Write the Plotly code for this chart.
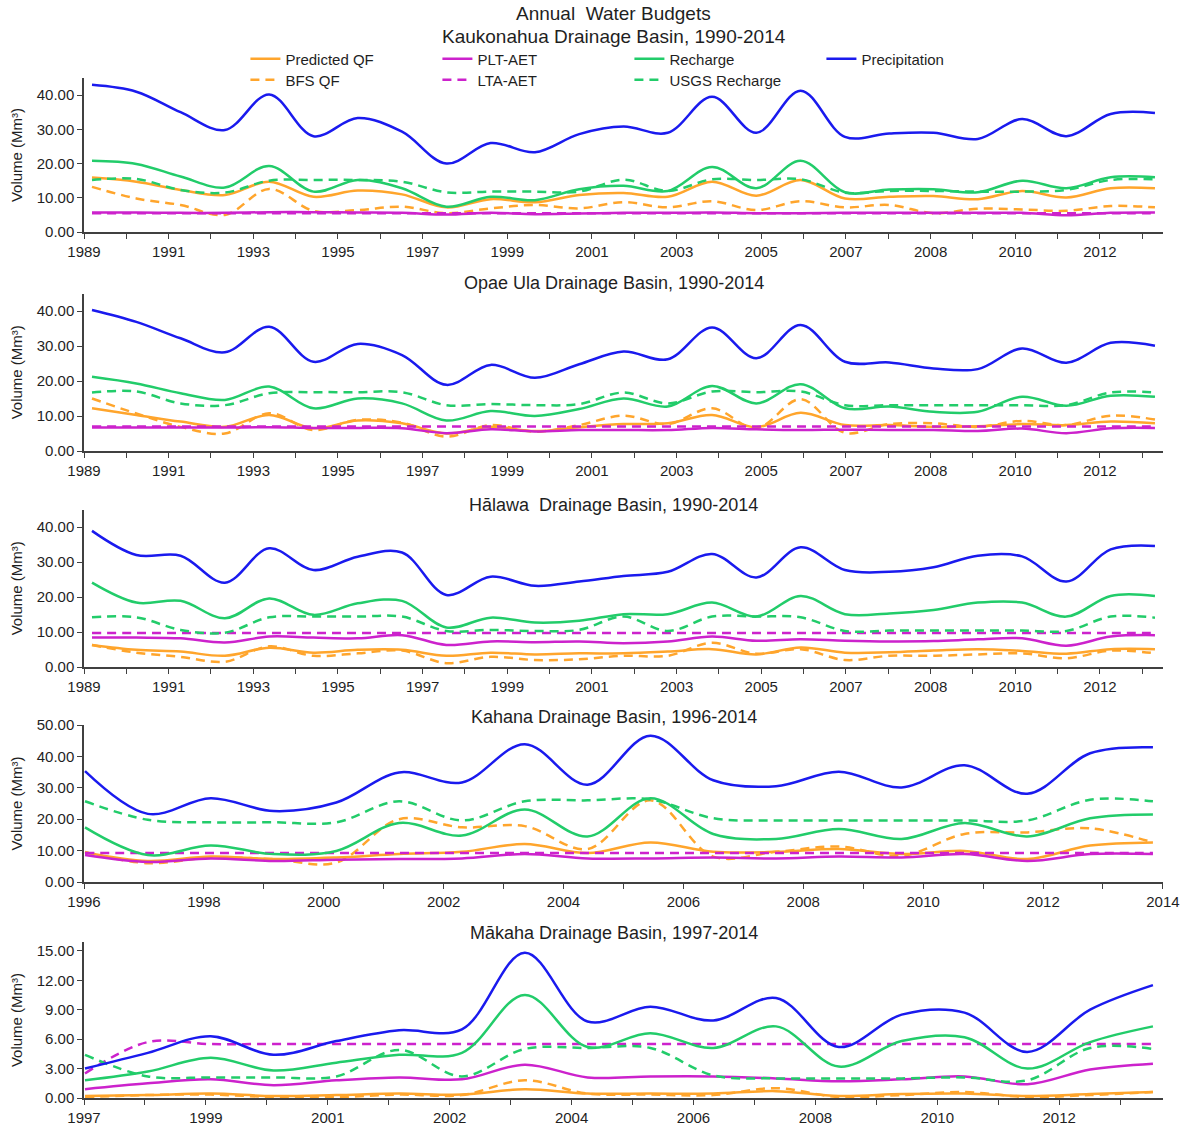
import plotly.graph_objects as go

W, H = 1184, 1126

# ---------------- data ----------------
years_90_14 = list(range(1990, 2015))
years_kahana = list(range(1996, 2014))
years_makaha = list(range(1997, 2015))

series_names = ["Predicted QF", "BFS QF", "PLT-AET", "LTA-AET", "Recharge", "USGS Recharge", "Precipitation"]

kauk = {
    "Precipitation": [43.0, 41.0, 35.0, 29.8, 40.2, 28.0, 33.3, 29.3, 20.0, 26.0, 23.3, 28.6, 30.8, 29.0, 39.5, 29.0, 41.3, 27.8, 28.8, 29.0, 27.2, 33.0, 28.0, 34.5, 34.8],
    "Recharge":      [20.8, 19.9, 16.2, 13.0, 19.3, 11.8, 15.2, 12.8, 7.4, 10.3, 9.3, 12.5, 13.5, 12.0, 19.0, 12.8, 20.8, 11.6, 12.4, 12.5, 11.6, 15.0, 12.8, 16.0, 16.0],
    "USGS Recharge": [15.2, 15.5, 12.3, 11.5, 15.0, 15.2, 15.2, 14.7, 11.6, 11.8, 11.8, 11.8, 15.3, 12.0, 15.4, 15.2, 15.4, 11.5, 12.0, 12.0, 11.8, 11.8, 12.3, 15.2, 15.4],
    "Predicted QF":  [15.9, 14.7, 12.3, 10.8, 14.7, 10.3, 12.1, 11.0, 7.2, 9.6, 8.7, 10.8, 11.4, 10.3, 14.7, 10.6, 15.2, 9.8, 10.3, 10.5, 9.6, 12.0, 10.1, 12.8, 12.8],
    "BFS QF":        [13.2, 9.8, 7.9, 5.0, 12.6, 6.2, 6.4, 7.4, 5.5, 6.9, 7.9, 6.9, 8.7, 7.2, 9.0, 6.4, 9.0, 7.2, 7.9, 5.5, 6.8, 6.6, 6.2, 7.6, 7.2],
    "PLT-AET":       [5.7, 5.7, 5.6, 5.6, 5.8, 5.8, 5.7, 5.6, 5.1, 5.6, 5.2, 5.4, 5.6, 5.6, 5.7, 5.5, 5.5, 5.6, 5.6, 5.6, 5.6, 5.6, 4.9, 5.6, 5.7],
    "LTA-AET":       [5.5, 5.5, 5.5, 5.5, 5.5, 5.5, 5.5, 5.5, 5.5, 5.5, 5.5, 5.5, 5.5, 5.5, 5.5, 5.5, 5.5, 5.5, 5.5, 5.5, 5.5, 5.5, 5.5, 5.5, 5.5],
}

opae = {
    "Precipitation": [40.3, 36.9, 32.2, 28.2, 35.5, 25.5, 30.6, 27.4, 18.9, 24.6, 20.9, 24.8, 28.4, 26.2, 35.3, 26.5, 36.0, 25.5, 25.3, 23.6, 23.4, 29.3, 25.2, 30.9, 30.1],
    "Recharge":      [21.2, 19.3, 16.5, 14.6, 18.4, 12.2, 15.0, 13.6, 8.7, 11.4, 10.0, 12.0, 15.0, 12.7, 18.6, 13.6, 19.1, 12.2, 12.7, 11.2, 11.2, 15.5, 12.9, 15.8, 15.5],
    "USGS Recharge": [16.7, 17.0, 13.6, 13.1, 16.5, 16.8, 16.8, 16.8, 13.1, 13.4, 13.1, 13.4, 16.7, 13.6, 17.0, 16.8, 17.0, 13.1, 13.1, 13.1, 13.1, 13.1, 13.1, 16.7, 16.7],
    "Predicted QF":  [12.2, 10.3, 8.4, 6.9, 10.3, 6.5, 8.7, 7.9, 5.0, 6.9, 5.7, 6.8, 7.7, 7.9, 10.3, 6.8, 10.9, 7.4, 7.4, 6.9, 7.1, 7.7, 7.4, 8.4, 7.9],
    "BFS QF":        [15.0, 10.7, 6.9, 5.0, 10.8, 6.0, 8.9, 8.1, 4.1, 7.4, 5.5, 7.4, 10.1, 7.7, 12.2, 6.5, 14.8, 5.2, 7.7, 7.9, 6.9, 8.6, 7.4, 10.1, 9.0],
    "PLT-AET":       [6.7, 6.7, 6.7, 6.7, 6.8, 6.6, 6.6, 6.5, 5.1, 6.2, 5.6, 6.0, 6.0, 6.0, 6.6, 6.2, 6.0, 6.1, 6.0, 6.0, 5.7, 6.4, 5.1, 6.5, 6.6],
    "LTA-AET":       [7.0, 7.0, 7.0, 7.0, 7.0, 7.0, 7.0, 7.0, 7.0, 7.0, 7.0, 7.0, 7.0, 7.0, 7.0, 7.0, 7.0, 7.0, 7.0, 7.0, 7.0, 7.0, 7.0, 7.0, 7.0],
}

halawa = {
    "Precipitation": [38.9, 32.0, 31.8, 24.1, 33.9, 27.7, 31.5, 32.7, 20.6, 25.8, 23.2, 24.4, 26.0, 27.2, 32.3, 25.6, 34.2, 27.7, 27.2, 28.5, 31.8, 31.6, 24.4, 33.6, 34.6],
    "Recharge":      [24.1, 18.4, 18.9, 13.9, 19.6, 14.9, 18.2, 18.9, 11.3, 14.1, 12.7, 13.2, 15.1, 15.1, 18.4, 14.4, 20.3, 15.1, 15.3, 16.3, 18.4, 18.4, 14.4, 20.3, 20.3],
    "USGS Recharge": [14.2, 14.2, 10.6, 9.8, 14.2, 14.4, 14.4, 14.4, 10.3, 10.6, 10.3, 10.6, 14.4, 10.3, 14.4, 14.4, 14.2, 10.3, 10.4, 10.4, 10.4, 10.4, 10.3, 14.4, 14.1],
    "Predicted QF":  [6.3, 4.9, 4.4, 3.2, 5.5, 4.1, 4.9, 4.9, 3.2, 4.1, 3.6, 3.9, 3.9, 4.4, 5.1, 3.6, 5.6, 4.1, 4.2, 4.7, 5.1, 4.6, 3.8, 5.1, 5.1],
    "BFS QF":        [6.3, 4.1, 2.9, 1.5, 5.9, 3.2, 3.9, 4.7, 1.1, 2.9, 2.0, 2.2, 3.2, 3.2, 6.9, 3.8, 5.1, 2.0, 3.2, 3.2, 3.6, 3.9, 2.5, 4.7, 3.9],
    "PLT-AET":       [8.4, 8.4, 8.2, 7.0, 8.7, 8.4, 8.2, 9.1, 6.3, 7.3, 7.1, 7.3, 6.8, 7.3, 8.7, 7.5, 7.9, 7.5, 7.3, 7.4, 7.9, 8.2, 6.1, 8.7, 9.1],
    "LTA-AET":       [9.7, 9.7, 9.7, 9.7, 9.7, 9.7, 9.7, 9.7, 9.7, 9.7, 9.7, 9.7, 9.7, 9.7, 9.7, 9.7, 9.7, 9.7, 9.7, 9.7, 9.7, 9.7, 9.7, 9.7, 9.7],
}

kahana = {
    "Precipitation": [35.3, 21.7, 26.7, 22.6, 25.3, 34.9, 31.7, 43.9, 31.0, 46.6, 32.4, 30.5, 35.1, 30.1, 37.2, 28.1, 41.0, 42.9],
    "Recharge":      [17.4, 8.6, 11.6, 8.9, 9.9, 18.8, 14.8, 23.1, 14.5, 26.7, 15.3, 13.7, 16.9, 13.7, 18.8, 14.5, 20.3, 21.5],
    "USGS Recharge": [25.7, 19.8, 19.0, 19.0, 19.0, 25.7, 19.6, 25.7, 26.0, 26.3, 20.3, 19.6, 19.6, 19.6, 19.6, 19.6, 26.2, 25.7],
    "Predicted QF":  [9.4, 6.7, 8.1, 7.3, 7.8, 8.9, 9.6, 12.1, 9.2, 12.6, 9.6, 9.6, 10.5, 8.9, 9.9, 7.3, 11.6, 12.6],
    "BFS QF":        [9.6, 6.0, 7.8, 7.3, 6.2, 20.0, 17.4, 17.8, 10.5, 26.0, 8.1, 9.6, 11.3, 8.3, 15.3, 15.8, 17.1, 12.6],
    "PLT-AET":       [8.6, 6.4, 7.5, 6.7, 7.1, 7.3, 7.5, 8.9, 7.5, 7.5, 7.8, 7.5, 8.1, 7.8, 8.9, 6.7, 8.9, 8.9],
    "LTA-AET":       [9.2, 9.2, 9.2, 9.2, 9.2, 9.2, 9.2, 9.2, 9.2, 9.2, 9.2, 9.2, 9.2, 9.2, 9.2, 9.2, 9.2, 9.2],
}

makaha = {
    "Precipitation": [3.0, 4.6, 6.3, 4.4, 5.8, 6.9, 7.0, 14.8, 7.8, 9.3, 7.9, 10.2, 5.2, 8.5, 8.7, 4.7, 9.0, 11.5],
    "Recharge":      [1.8, 2.7, 4.1, 2.8, 3.6, 4.4, 4.6, 10.5, 5.2, 6.6, 5.1, 7.3, 3.2, 5.8, 6.2, 3.0, 5.7, 7.3],
    "USGS Recharge": [4.4, 2.2, 2.1, 2.1, 2.2, 4.9, 2.2, 5.0, 5.1, 5.1, 2.3, 2.0, 2.0, 2.0, 2.1, 1.8, 5.1, 5.0],
    "Predicted QF":  [0.2, 0.3, 0.45, 0.2, 0.3, 0.45, 0.35, 0.9, 0.45, 0.45, 0.45, 0.7, 0.2, 0.4, 0.45, 0.2, 0.4, 0.6],
    "BFS QF":        [0.1, 0.3, 0.35, 0.1, 0.1, 0.35, 0.3, 1.8, 0.45, 0.35, 0.3, 1.0, 0.1, 0.3, 0.6, 0.1, 0.3, 0.6],
    "PLT-AET":       [0.9, 1.5, 1.9, 1.3, 1.8, 2.1, 1.9, 3.4, 2.1, 2.2, 2.2, 2.0, 1.7, 1.9, 2.2, 1.4, 2.9, 3.5],
    "LTA-AET":       [2.5, 5.7, 5.5, 5.5, 5.5, 5.5, 5.5, 5.5, 5.5, 5.5, 5.5, 5.5, 5.5, 5.5, 5.5, 5.5, 5.5, 5.5],
}

tick_labels_90_14 = ["1989", "1991", "1993", "1995", "1997", "1999", "2001", "2003",
                     "2005", "2007", "2008", "2010", "2012"]
tick_labels_kahana = ["1996", "1998", "2000", "2002", "2004", "2006", "2008", "2010", "2012", "2014"]
tick_labels_makaha = ["1997", "1999", "2001", "2002", "2004", "2006", "2008", "2010", "2012"]

main_title = "Annual  Water Budgets"
panel_titles = [
    "Kaukonahua Drainage Basin, 1990-2014",
    "Opae Ula Drainage Basin, 1990-2014",
    "Hālawa  Drainage Basin, 1990-2014",
    "Kahana Drainage Basin, 1996-2014",
    "Mākaha Drainage Basin, 1997-2014",
]
y_title = "Volume (Mm³)"

# ---------------- styles ----------------
FONT = "Liberation Sans, Arial, sans-serif"
TXT = "#1f1f1f"
styles = {
    "Predicted QF":  dict(color="#FFA52C", dash="solid"),
    "BFS QF":        dict(color="#FFA52C", dash="9px,6px"),
    "PLT-AET":       dict(color="#CC22CC", dash="solid"),
    "LTA-AET":       dict(color="#CC22CC", dash="9px,6px"),
    "Recharge":      dict(color="#22CC6A", dash="solid"),
    "USGS Recharge": dict(color="#22CC6A", dash="9px,6px"),
    "Precipitation": dict(color="#1A1AEE", dash="solid"),
}
row1 = ["Predicted QF", "PLT-AET", "Recharge", "Precipitation"]
legend_rank = {"Predicted QF": 1, "PLT-AET": 2, "Recharge": 3, "Precipitation": 4,
               "BFS QF": 1, "LTA-AET": 2, "USGS Recharge": 3}

AX_L, AX_R = 84, 1163  # plot area in px
# panel geometry: (data, years, top px, bottom px, ymax, dtick, first point px, point step px, tick step px, n ticks, labels)
panels = [
    (kauk,   years_90_14, 78.0, 232, 45, 10, 92, 44.29, 42.33, 26, tick_labels_90_14),
    (opae,   years_90_14, 293.5, 451, 45, 10, 92, 44.29, 42.33, 26, tick_labels_90_14),
    (halawa, years_90_14, 509.5, 667, 45, 10, 92, 44.29, 42.33, 26, tick_labels_90_14),
    (kahana, years_kahana, 725, 882, 50, 10, 85, 62.82, 59.94, 19, tick_labels_kahana),
    (makaha, years_makaha, 942, 1098, 15.9, 3, 85, 62.82, 60.95, 18, tick_labels_makaha),
]

fig = go.Figure()
layout = dict(
    width=W, height=H,
    margin=dict(l=AX_L, r=W - AX_R, t=0, b=0, autoexpand=False),
    paper_bgcolor="white", plot_bgcolor="white",
    font=dict(family=FONT, size=15, color=TXT),
    showlegend=True,
)

annotations = [
    dict(text=main_title, x=0.491, y=1 - 14 / H, xref="paper", yref="paper",
         showarrow=False, font=dict(size=19, color=TXT), xanchor="center", yanchor="middle"),
]
title_y = [36, 283, 505, 717, 933]
title_size = [19, 18, 18, 18, 18]

for p, (data, yrs, top, bot, ymax, dtick, p0, dp, ts, nt, labels) in enumerate(panels):
    ax = "" if p == 0 else str(p + 1)
    y0 = yrs[0]
    xr = [y0 + (AX_L - p0) / dp, y0 + (AX_R - p0) / dp]
    tickvals = [y0 + (AX_L + k * ts - p0) / dp for k in range(nt)]
    ticktext = [labels[k // 2] if (k % 2 == 0 and k // 2 < len(labels)) else "" for k in range(nt)]
    layout["xaxis" + ax] = dict(
        domain=[0, 1], anchor="y" + ax, range=xr, tickmode="array",
        tickvals=tickvals, ticktext=ticktext, ticks="outside", ticklen=5,
        tickwidth=1.2, tickcolor="#404040", showline=True, linecolor="#404040",
        linewidth=1.5, showgrid=False, zeroline=False, automargin=False,
        tickfont=dict(size=15, color=TXT), fixedrange=True,
    )
    layout["yaxis" + ax] = dict(
        domain=[1 - bot / H, 1 - top / H], anchor="x" + ax, range=[0, ymax],
        dtick=dtick, tick0=0, tickformat=".2f", ticks="outside", ticklen=5,
        tickwidth=1.2, tickcolor="#404040", showline=True, linecolor="#404040",
        linewidth=1.5, showgrid=False, zeroline=False, automargin=False,
        tickfont=dict(size=15, color=TXT), fixedrange=True,
        title=dict(text=y_title, font=dict(size=15, color=TXT), standoff=10),
    )
    annotations.append(dict(
        text=panel_titles[p], x=0.491, y=1 - title_y[p] / H, xref="paper", yref="paper",
        showarrow=False, font=dict(size=title_size[p], color=TXT), xanchor="center", yanchor="middle"))

    for name in series_names:
        st = styles[name]
        fig.add_trace(go.Scatter(
            x=yrs, y=data[name], name=name, mode="lines",
            line=dict(color=st["color"], dash=st["dash"], width=2.5, shape="spline", smoothing=1.0),
            xaxis="x" + ax, yaxis="y" + ax,
            showlegend=(p == 0),
            legend="legend" if name in row1 else "legend2",
            legendrank=legend_rank[name],
            hoverinfo="skip",
        ))

leg_common = dict(orientation="h", xanchor="left", yanchor="middle", x=0.1496,
                  entrywidth=147, entrywidthmode="pixels", bgcolor="rgba(0,0,0,0)",
                  font=dict(size=15, color=TXT), itemclick=False, itemdoubleclick=False,
                  tracegroupgap=0)
layout["legend"] = dict(leg_common, y=1 - 59 / H)
layout["legend2"] = dict(leg_common, y=1 - 80 / H)
layout["annotations"] = annotations

fig.update_layout(**layout)
fig.write_html(
    "out.html",
    config={"displayModeBar": False, "staticPlot": False},
    post_script="document.body.style.margin='0';document.body.style.overflow='hidden';",
)
